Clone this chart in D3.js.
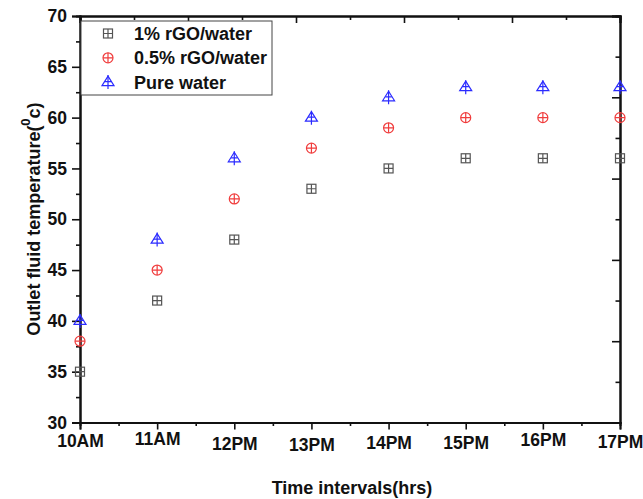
<!DOCTYPE html>
<html>
<head>
<meta charset="utf-8">
<script src="https://cdn.jsdelivr.net/npm/d3@7"></script>
<style>
  body { margin: 0; background: #fff; }
  text { font-family: "Liberation Sans", Arial, sans-serif; font-weight: bold; }
</style>
</head>
<body>
<div id="chart"></div>
<script>
// Data
const timeLabels = ["10AM", "11AM", "12PM", "13PM", "14PM", "15PM", "16PM", "17PM"];
const labelShift = [-1, -3, 2, 3, 1, 1, -2, 0];   // labels sit a bit uneven in the original
const rgo1 = [35, 42, 48, 53, 55, 56, 56, 56];
const rgo05 = [38, 45, 52, 57, 59, 60, 60, 60];
const pureWater = [40, 48, 56, 60, 62, 63, 63, 63];
const yTicks = [30, 35, 40, 45, 50, 55, 60, 65, 70];
const seriesNames = ["1% rGO/water", "0.5% rGO/water", "Pure water"];

const width = 643, height = 499;
const margin = { left: 80, top: 16, right: 23, bottom: 76.5 };
const iw = width - margin.left - margin.right;
const ih = height - margin.top - margin.bottom;

const svg = d3.select("#chart").append("svg")
  .attr("width", width)
  .attr("height", height);

const g = svg.append("g").attr("transform", `translate(${margin.left},${margin.top})`);

// Scales
const x = d3.scaleLinear().domain([0, timeLabels.length - 1]).range([0, iw]);
const y = d3.scaleLinear().domain([30, 70]).range([ih, 0]);
// the top and right frame axes carry their own unlabeled ticks
const xTop = d3.scaleLinear().domain([0, 10]).range([0, iw]);
const yRight = d3.scaleLinear().domain([0, 10]).range([ih, 0]);

// Bottom axis
const minorX = d3.range(0.5, timeLabels.length - 1, 1);
g.append("g").attr("transform", `translate(0,${ih})`)
  .call(d3.axisBottom(x).tickValues(minorX).tickSize(3.5).tickFormat(""));
const bottom = g.append("g").attr("transform", `translate(0,${ih})`)
  .call(d3.axisBottom(x).tickValues(d3.range(timeLabels.length)).tickSize(7).tickPadding(6)
    .tickFormat(i => timeLabels[i]));
bottom.selectAll("text")
  .attr("font-size", 17.5)
  .attr("fill", "#111")
  .attr("dy", (d, i) => (0.71 * 17.5 + labelShift[i]) + "px");

// Left axis
g.append("g")
  .call(d3.axisLeft(y).tickValues(d3.range(32.5, 70, 5)).tickSize(4).tickFormat(""));
const left = g.append("g")
  .call(d3.axisLeft(y).tickValues(yTicks).tickSize(8).tickPadding(5));
left.selectAll("text").attr("font-size", 17.5).attr("fill", "#111");

// Top axis (ticks inward)
g.append("g")
  .call(d3.axisBottom(xTop).tickValues(d3.range(1, 10, 2)).tickSize(4).tickFormat(""));
g.append("g")
  .call(d3.axisBottom(xTop).tickValues(d3.range(0, 11, 2)).tickSize(7).tickFormat(""));

// Right axis (ticks inward)
g.append("g").attr("transform", `translate(${iw},0)`)
  .call(d3.axisLeft(yRight).tickValues(d3.range(1, 10, 2)).tickSize(4.5).tickFormat(""));
g.append("g").attr("transform", `translate(${iw},0)`)
  .call(d3.axisLeft(yRight).tickValues(d3.range(0, 11, 2)).tickSize(8).tickFormat(""));

g.selectAll(".domain").attr("stroke", "#111").attr("stroke-width", 2);
g.selectAll(".tick line").attr("stroke", "#111").attr("stroke-width", 1.6);

// Marker shapes
function squareMark(sel) {
  sel.append("rect").attr("x", -4.5).attr("y", -4.5).attr("width", 9).attr("height", 9);
  sel.append("path").attr("d", "M0,-4.5V4.5M-4.5,0H4.5");
  sel.attr("fill", "none").attr("stroke", "#555").attr("stroke-width", 1.2);
}
function circleMark(sel) {
  sel.append("circle").attr("r", 5);
  sel.append("path").attr("d", "M0,-5V5M-5,0H5");
  sel.attr("fill", "none").attr("stroke", "#f03c3c").attr("stroke-width", 1.2);
}
function triangleMark(sel) {
  sel.append("path").attr("d", "M0,-6L6,3.5H-6Z");
  sel.append("path").attr("d", "M0,-7V7M-3.2,-0.5H3.2");
  sel.attr("fill", "none").attr("stroke", "#2b2bff").attr("stroke-width", 1.2);
}

const series = [
  { name: seriesNames[0], values: rgo1, draw: squareMark },
  { name: seriesNames[1], values: rgo05, draw: circleMark },
  { name: seriesNames[2], values: pureWater, draw: triangleMark }
];

const plot = g.append("g");
series.forEach(s => {
  plot.selectAll(null)
    .data(s.values)
    .enter()
    .append("g")
    .attr("transform", (d, i) => `translate(${x(i)},${y(d)})`)
    .each(function() { s.draw(d3.select(this)); });
});

// Legend
const legend = g.append("g").attr("transform", "translate(1,5)");
legend.append("rect")
  .attr("width", 191).attr("height", 74)
  .attr("fill", "#fff").attr("stroke", "#444").attr("stroke-width", 1);
series.forEach((s, i) => {
  const row = legend.append("g").attr("transform", `translate(0,${12.5 + i * 24.3})`);
  row.append("g").attr("transform", "translate(27,0)").call(s.draw);
  row.append("text")
    .attr("x", 53).attr("y", 6.5)
    .attr("font-size", 18)
    .attr("fill", "#111")
    .text(s.name);
});

// Axis titles
svg.append("text")
  .attr("x", 352).attr("y", 494)
  .attr("text-anchor", "middle")
  .attr("font-size", 18)
  .attr("fill", "#111")
  .text("Time intervals(hrs)");

const yTitle = svg.append("text")
  .attr("transform", "translate(40,219) rotate(-90)")
  .attr("text-anchor", "middle")
  .attr("font-size", 18)
  .attr("fill", "#111");
yTitle.append("tspan").text("Outlet fluid temperature(");
yTitle.append("tspan").attr("dy", -10).attr("font-size", 13).text("0");
yTitle.append("tspan").attr("dy", 10).text("c)");
</script>
</body>
</html>
